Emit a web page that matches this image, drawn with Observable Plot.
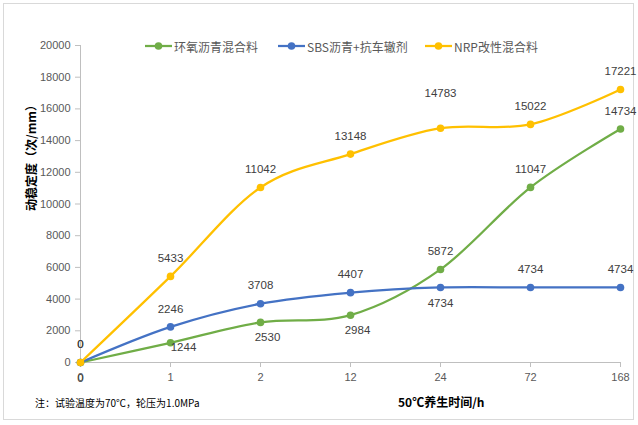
<!DOCTYPE html>
<html>
<head>
<meta charset="utf-8">
<script src="https://cdn.jsdelivr.net/npm/d3@7"></script>
<script src="https://cdn.jsdelivr.net/npm/@observablehq/plot@0.6"></script>
<style>
  html, body { margin: 0; padding: 0; background: #fff; }
  #wrap { position: relative; width: 638px; height: 425px; overflow: hidden; font-family: "Liberation Sans", Arial, sans-serif; }
  #frame { position: absolute; left: 3px; top: 3px; width: 631px; height: 417px; border: 1px solid #d9d9d9; box-sizing: border-box; }
  #chart { position: absolute; left: 0; top: 0; }
  .legend { position: absolute; top: 38px; height: 16px; display: flex; align-items: center; font-family: "Noto Sans CJK SC", sans-serif; font-size: 12px; color: #595959; white-space: nowrap; }
  .legend svg { margin-right: 2px; }
  #ytitle { position: absolute; left: 30px; top: 155px; transform: translate(-50%, -50%) rotate(-90deg); font-family: "Noto Sans CJK SC", sans-serif; font-weight: bold; font-size: 12px; color: #000; white-space: nowrap; }
  #note { position: absolute; left: 35px; top: 395px; font-family: "Noto Sans CJK SC", sans-serif; font-size: 10px; color: #000; white-space: nowrap; }
  #xtitle { position: absolute; left: 398px; top: 393px; font-family: "Noto Sans CJK SC", sans-serif; font-weight: bold; font-size: 12px; color: #000; white-space: nowrap; }
</style>
</head>
<body>
<div id="wrap">
  <div id="frame"></div>
  <div id="chart"></div>
  <div id="legend"></div>
  <div id="ytitle">动稳定度（次/mm）</div>
  <div id="note">注：试验温度为70℃，轮压为1.0MPa</div>
  <div id="xtitle">50℃养生时间/h</div>
</div>
<script>
// ---- data ----
const hours = ["0", "1", "2", "12", "24", "72", "168"];
const seriesNames = ["环氧沥青混合料", "SBS沥青+抗车辙剂", "NRP改性混合料"];
const epoxy = [0, 1244, 2530, 2984, 5872, 11047, 14734];
const sbs = [0, 2246, 3708, 4407, 4734, 4734, 4734];
const nrp = [0, 5433, 11042, 13148, 14783, 15022, 17221];
const yTicks = [0, 2000, 4000, 6000, 8000, 10000, 12000, 14000, 16000, 18000, 20000];

// ---- styling / label placement (not data) ----
const colors = ["#70AD47", "#4472C4", "#FFC000"];
const labelPlacement = [
  ["below", "right", "belowRight", "belowRight", "above", "above", "above"],
  ["above", "above", "above", "above", "below", "above", "above"],
  ["above", "above", "above", "above", "high", "above", "above"]
];
const offsets = {
  above: [0, -18], below: [0, 16], belowRight: [7, 15], right: [13, 5], high: [0, -35]
};

const allValues = [epoxy, sbs, nrp];
const rows = [];
allValues.forEach((vals, s) => {
  vals.forEach((v, i) => {
    rows.push({ series: seriesNames[s], s, x: hours[i], y: v, pos: labelPlacement[s][i] });
  });
});

const marks = [
  Plot.ruleY([0], { stroke: "#bfbfbf", strokeWidth: 1 }),
  Plot.axisY({ ticks: yTicks, tickSize: 5, tickPadding: 5, stroke: "#bfbfbf", fill: "#595959", fontSize: 11, label: null, tickFormat: d => String(d) }),
  Plot.ruleX([0], { x: () => hours[0], stroke: "#bfbfbf" }),
  Plot.axisX({ tickSize: 5, tickPadding: 6, stroke: "#bfbfbf", fill: "#595959", fontSize: 11, label: null })
];
allValues.forEach((vals, s) => {
  const d = rows.filter(r => r.s === s);
  marks.push(Plot.line(d, { x: "x", y: "y", stroke: colors[s], strokeWidth: 2.25, curve: "cardinal" }));
  marks.push(Plot.dot(d, { x: "x", y: "y", fill: colors[s], r: 3.8 }));
});
Object.keys(offsets).forEach(k => {
  const d = rows.filter(r => r.pos === k);
  marks.push(Plot.text(d, {
    x: "x", y: "y", text: r => String(r.y), dx: offsets[k][0], dy: offsets[k][1],
    lineAnchor: "middle", textAnchor: "middle", fill: "#404040", fontSize: 11.5
  }));
});

const chart = Plot.plot({
  width: 638,
  height: 425,
  marginLeft: 80,
  marginRight: 18,
  marginTop: 45,
  marginBottom: 63,
  style: { background: "transparent", fontFamily: "'Liberation Sans', Arial, sans-serif", overflow: "visible" },
  x: { type: "point", domain: hours, padding: 0 },
  y: { domain: [0, 20000] },
  marks
});
document.getElementById("chart").appendChild(chart);

// legend
const legendLeft = [145, 278, 425];
const legend = document.getElementById("legend");
seriesNames.forEach((name, s) => {
  const item = document.createElement("div");
  item.className = "legend";
  item.style.left = legendLeft[s] + "px";
  item.innerHTML = `<svg width="27" height="10"><line x1="0" y1="5" x2="27" y2="5" stroke="${colors[s]}" stroke-width="2.25"/><circle cx="13.5" cy="5" r="3.8" fill="${colors[s]}"/></svg><span>${name}</span>`;
  legend.appendChild(item);
});
</script>
</body>
</html>
